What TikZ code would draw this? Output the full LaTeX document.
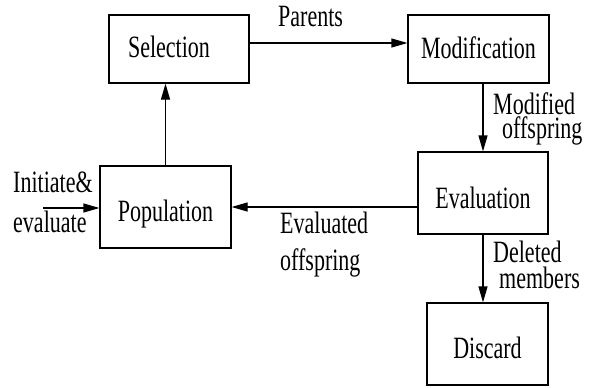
\documentclass[tikz,border=0pt]{standalone}
\usepackage{fontspec}
\setmainfont{Liberation Serif}[FakeStretch=0.71]
\usetikzlibrary{arrows.meta}
\begin{document}
\begin{tikzpicture}[x=1pt,y=-1pt,
  every node/.style={font=\fontsize{31}{24}\selectfont, inner sep=0pt},
  blk/.style={draw, line width=1.2pt, rectangle, text depth=7pt},
  lbl/.style={align=left},
  conn/.style={line width=1.2pt, -{Triangle[length=16pt,width=9pt]}}]
\useasboundingbox (0,0) rectangle (595,388);
\node[blk, minimum width=140pt, minimum height=68pt, text height=23pt] (sel) at (179,49) {Selection\hspace*{20pt}};
\node[blk, minimum width=141pt, minimum height=68pt, text height=25pt] (mod) at (478.5,49) {Modification};
\node[blk, minimum width=131pt, minimum height=82pt, text height=35pt] (pop) at (165.5,207) {Population};
\node[blk, minimum width=130pt, minimum height=82pt, text height=37pt] (eva) at (483,193) {Evaluation};
\node[blk, minimum width=121pt, minimum height=82pt, text height=35pt] (dis) at (487.5,344) {Discard};
\coordinate (init) at (43,208);
\draw[conn] (pop.north) -- (pop.north |- sel.south);
\draw[conn] (sel.east |- 0,43) -- (mod.west |- 0,43);
\draw[conn] (mod.south -| eva.north) -- (eva.north);
\draw[conn] (eva.west |- pop.east) -- (pop.east);
\draw[conn] (eva.south) -- (eva.south |- dis.north);
\draw[conn] (init) -- (init -| pop.west);
\node[anchor=base west] (par) at (278,27) {Parents};
\node[lbl, anchor=north west] (mo) at (493,92) {Modified\\\hspace*{9pt}offspring};
\node[lbl, anchor=north west] (eo) at (280,212) {Evaluated\\[13pt]offspring};
\node[lbl, anchor=north west] (dm) at (493,241) {Deleted\\[2pt]\hspace*{6pt}members};
\node[lbl, anchor=north west] (ie) at (13,172) {Initiate\&\\[16pt]evaluate};
\end{tikzpicture}
\end{document}
